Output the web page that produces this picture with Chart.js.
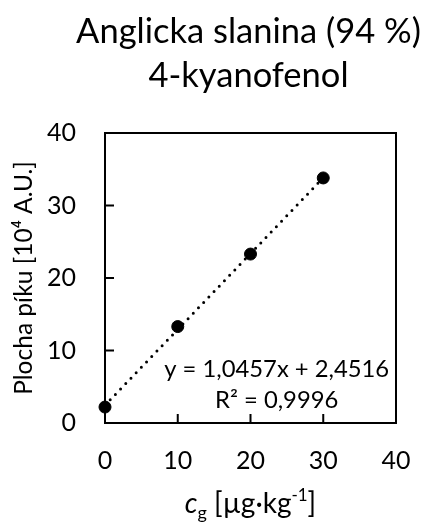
<!DOCTYPE html>
<html>
<head>
<meta charset="utf-8">
<script src="https://cdn.jsdelivr.net/npm/chart.js@4.4.1/dist/chart.umd.min.js"></script>
<style>
  html,body{margin:0;padding:0;background:#fff;}
  #wrap{width:421px;height:522px;position:relative;}
</style>
</head>
<body>
<div id="wrap"><canvas id="chart" width="421" height="522"></canvas></div>
<script>
// ── data ──
const titleLines=['Anglicka slanina (94 %)','4-kyanofenol'];
const concX=[0,10,20,30];
const areaY=[2.2,13.3,23.3,33.8];
const trendX=[0,30];
const trendY=[2.4516,33.8226];
const xTickVals=[0,10,20,30,40];
const yTickVals=[0,10,20,30,40];
const eqLines=['y = 1,0457x + 2,4516','R² = 0,9996'];
const yTitle='Plocha píku [10⁴ A.U.]';

const FONT='Lato';
const INK='#000';

// frame + inward ticks, then title / equation / x title as text
const decor={
  id:'decor',
  beforeDatasetsDraw(chart){
    const {ctx,chartArea:a,scales:{x,y}}=chart;
    ctx.save();
    ctx.strokeStyle=INK;ctx.lineWidth=2;
    ctx.strokeRect(a.left,a.top,a.right-a.left,a.bottom-a.top);
    ctx.beginPath();
    for(const v of xTickVals.slice(1,-1)){
      const px=x.getPixelForValue(v);
      ctx.moveTo(px,a.bottom);ctx.lineTo(px,a.bottom-9);
    }
    for(const v of yTickVals.slice(1,-1)){
      const py=y.getPixelForValue(v);
      ctx.moveTo(a.left,py);ctx.lineTo(a.left+9,py);
    }
    ctx.stroke();
    ctx.restore();
  },
  afterDraw(chart){
    const {ctx,chartArea:a}=chart;
    const mid=(a.left+a.right)/2;
    ctx.save();
    ctx.fillStyle=INK;
    ctx.textAlign='center';ctx.textBaseline='alphabetic';
    // chart title
    ctx.font='34.5px '+FONT;
    ctx.fillText(titleLines[0],mid-2,43);
    ctx.fillText(titleLines[1],mid-2,87);
    // trendline label
    ctx.font='23.8px '+FONT;
    const cx=a.left+(a.right-a.left)*0.59;
    ctx.fillText(eqLines[0],cx,377);
    ctx.fillText(eqLines[1],cx,408);
    // x axis title with italic c, subscript g, superscript -1
    const parts=[
      {t:'c',f:'italic 28px '+FONT,dy:0},
      {t:'g',f:'18px '+FONT,dy:6},
      {t:' [µg·kg',f:'28px '+FONT,dy:0},
      {t:'-1',f:'17px '+FONT,dy:-12},
      {t:']',f:'28px '+FONT,dy:0}
    ];
    let w=0;
    for(const p of parts){ctx.font=p.f;p.w=ctx.measureText(p.t).width;w+=p.w;}
    let px=mid-w/2;
    const base=513;
    ctx.textAlign='left';
    for(const p of parts){ctx.font=p.f;ctx.fillText(p.t,px,base+p.dy);px+=p.w;}
    ctx.restore();
  }
};

new Chart(document.getElementById('chart'),{
  type:'scatter',
  data:{datasets:[
    {label:'data',data:concX.map((v,i)=>({x:v,y:areaY[i]})),
      backgroundColor:INK,borderColor:INK,pointRadius:6,pointHoverRadius:6,clip:false},
    {label:'trend',data:trendX.map((v,i)=>({x:v,y:trendY[i]})),showLine:true,
      borderColor:INK,borderWidth:3,borderDash:[0,7.5],borderCapStyle:'round',
      pointRadius:0,clip:false}
  ]},
  options:{
    responsive:false,animation:false,
    layout:{padding:{left:0,right:25,top:133,bottom:0}},
    plugins:{legend:{display:false},tooltip:{enabled:false}},
    scales:{
      x:{type:'linear',min:0,max:40,
        afterBuildTicks(s){s.ticks=xTickVals.map(v=>({value:v}));},
        afterFit(s){s.height=99;s.paddingLeft=14;s.paddingRight=14;},
        grid:{display:false,drawTicks:false},border:{display:false},
        ticks:{color:INK,padding:23,font:{family:FONT,size:25}}},
      y:{type:'linear',min:0,max:40,
        afterBuildTicks(s){s.ticks=yTickVals.map(v=>({value:v}));},
        afterFit(s){s.width=105;},
        grid:{display:false,drawTicks:false},border:{display:false},
        ticks:{color:INK,padding:29,font:{family:FONT,size:25}},
        title:{display:true,text:yTitle,color:INK,padding:{top:9,bottom:0},
          font:{family:FONT,size:24.5,lineHeight:1.2}}}
    }
  },
  plugins:[decor]
});
</script>
</body>
</html>
